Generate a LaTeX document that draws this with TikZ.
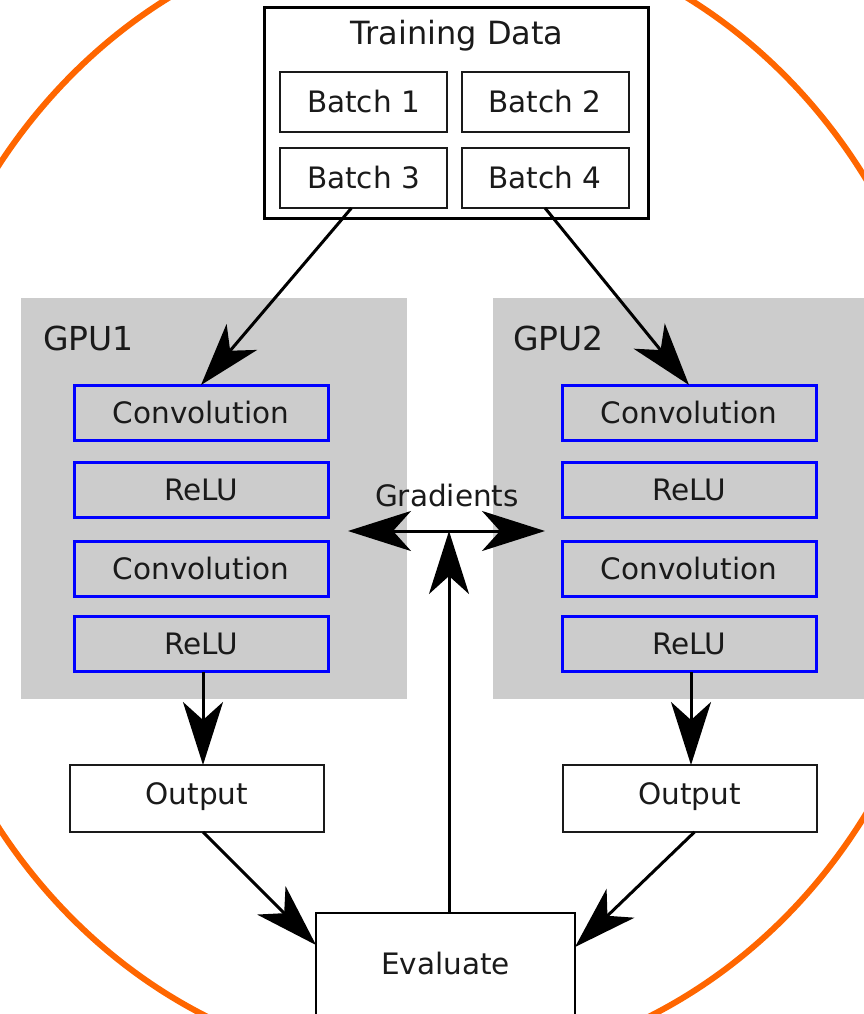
\documentclass[tikz,border=0pt]{standalone}
\usepackage{fontspec}
\setmainfont{DejaVu Sans}
\usetikzlibrary{arrows.meta}
\definecolor{gpugray}{HTML}{CCCCCC}
\definecolor{layerblue}{HTML}{0000FF}
\definecolor{ringorange}{HTML}{FF6600}
\definecolor{ink}{HTML}{1A1A1A}
\begin{document}
\begin{tikzpicture}[x=1pt,y=-1pt,
  every node/.style={inner sep=0pt, outer sep=0pt, text=ink},
  lbl/.style={font=\fontsize{29.5}{34}\selectfont, text height=21.5pt, text depth=0pt},
  bigtitle/.style={font=\fontsize{32}{38}\selectfont},
  gputitle/.style={font=\fontsize{33}{39}\selectfont, text height=24pt, text depth=0pt, anchor=west},
  batchbox/.style={draw=ink, line width=2pt, minimum width=167pt, minimum height=60pt, lbl},
  layerbox/.style={draw=layerblue, line width=3pt, minimum width=254pt, minimum height=55pt, lbl},
  outbox/.style={draw=ink, line width=2pt, minimum width=254pt, minimum height=67pt, lbl, text depth=9pt},
  gpuarea/.style={fill=gpugray, minimum height=401pt},
  bigtip/.tip={Stealth[length=63pt,width=40pt,inset=18pt]},
  flow/.style={line width=3pt, -bigtip},
  both/.style={line width=3pt, bigtip-bigtip},
]
\useasboundingbox (0,0) rectangle (864,1014);

% outer ring
\draw[ringorange, line width=6pt] (428,496.5) ellipse [x radius=526pt, y radius=573pt];

% training data
\node (td) [draw=black, line width=3pt, minimum width=384pt, minimum height=210pt] at (456,113) {};
\node (tdtitle) [bigtitle, anchor=base] at (457,45) {Training Data};
\node (b1) [batchbox] at (363.5,102) {Batch 1};
\node (b2) [batchbox] at (545,102) {Batch 2};
\node (b3) [batchbox] at (363.5,178) {Batch 3};
\node (b4) [batchbox] at (545,178) {Batch 4};

% GPU areas
\node (g1) [gpuarea, minimum width=386pt] at (214,498.5) {};
\node (g2) [gpuarea, minimum width=377pt] at (681.5,498.5) {};
\node (g1t) [gputitle] at (43,338) {GPU1};
\node (g2t) [gputitle] at (513,338) {GPU2};

% layers
\node (c1l) [layerbox] at (201,412.5) {Convolution};
\node (r1l) [layerbox] at (201,489.5) {ReLU};
\node (c2l) [layerbox] at (201,568.5) {Convolution};
\node (r2l) [layerbox] at (201,644) {ReLU};
\node (c1r) [layerbox] at (689,412.5) {Convolution};
\node (r1r) [layerbox] at (689,489.5) {ReLU};
\node (c2r) [layerbox] at (689,568.5) {Convolution};
\node (r2r) [layerbox] at (689,644) {ReLU};

% outputs and evaluation
\node (o1) [outbox] at (197,798.5) {Output};
\node (o2) [outbox] at (689.5,798.5) {Output};
\node (ev) [draw=black, line width=2.5pt, minimum width=259pt, minimum height=160pt, anchor=north,
  font=\fontsize{29.5}{34}\selectfont, text height=22pt, text depth=60pt] at (445.5,913) {Evaluate};

% gradients exchange
\node (grad) [font=\fontsize{29.5}{34}\selectfont, anchor=base] at (447,506) {Gradients};
\coordinate (gl) at (348,531);
\coordinate (gr) at (545,531);
\draw[both] (gl) -- (gr);
\draw[flow] ([xshift=3.5pt]ev.north) -- ([xshift=3.5pt]ev.north |- gl);

% data flow
\draw[flow] ([xshift=-12pt]b3.south) -- (c1l.north);
\draw[flow] (b4.south) -- (c1r.north);
\draw[flow] ([xshift=2pt]r2l.south) -- ([xshift=2pt]r2l.south |- o1.north);
\draw[flow] ([xshift=2pt]r2r.south) -- ([xshift=2pt]r2r.south |- o2.north);
\draw[flow] ([xshift=6pt]o1.south) -- ([yshift=-32pt]ev.north west);
\draw[flow] ([xshift=5pt]o2.south) -- ([yshift=-34pt]ev.north east);
\end{tikzpicture}
\end{document}
